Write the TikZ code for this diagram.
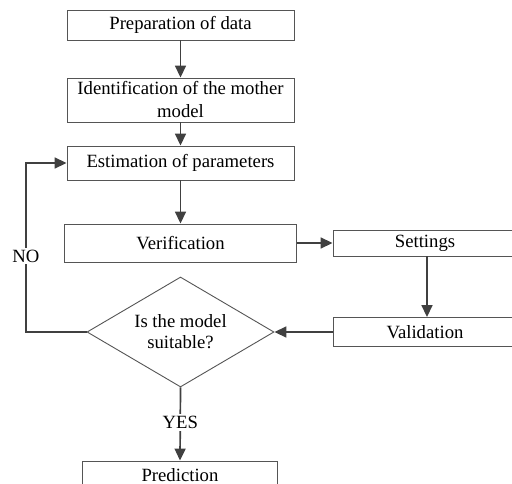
\documentclass[tikz,border=0pt]{standalone}
\usepackage{fontspec}
\setmainfont{Liberation Serif}
\usetikzlibrary{arrows.meta,shapes.geometric}

\begin{document}
\begin{tikzpicture}[x=1pt,y=1pt,yscale=-1,xscale=1,
  box/.style={draw={rgb, 255:red, 85; green, 85; blue, 85 },line width=0.9pt,fill=white,inner sep=0pt,align=center,font=\fontsize{18.7}{23}\selectfont},
  decision/.style={diamond,shape aspect=1.7,draw={rgb, 255:red, 85; green, 85; blue, 85 },line width=0.9pt,fill=white,inner sep=0pt,align=center,minimum width=187,minimum height=110,font=\fontsize{18.7}{21}\selectfont},
  flow/.style={draw={rgb, 255:red, 64; green, 64; blue, 64 },line width=1.7pt,-{Triangle[length=12pt,width=11pt]}},
  lbl/.style={fill=white,inner sep=2pt,font=\fontsize{18.7}{23}\selectfont}]
\useasboundingbox (0,0) rectangle (512,484);
\clip (0,0) rectangle (512,484);

%Shape: Rectangle [prep]
\node[box,minimum width=227,minimum height=30] (prep) at (180.5,25) {Preparation of data};
%Shape: Rectangle [ident]
\node[box,minimum width=227,minimum height=44] (ident) at (180.5,100) {Identification of the mother\\model};
%Shape: Rectangle [estim]
\node[box,minimum width=227,minimum height=34] (estim) at (180.5,163) {Estimation of parameters};
%Shape: Rectangle [verif]
\node[box,minimum width=232,minimum height=38] (verif) at (180.5,243) {Verification};
%Shape: Rectangle [settings]
\node[box,minimum width=184,minimum height=26] (settings) at (425,243) {Settings};
%Shape: Rectangle [valid]
\node[box,minimum width=184,minimum height=29] (valid) at (425,332) {Validation};
%Shape: Diamond [suit]
\node[decision] (suit) at (180.5,332) {Is the model\\suitable?};
%Shape: Rectangle [pred]
\node[box,minimum width=195,minimum height=28] (pred) at (180,475) {Prediction};

\coordinate (back) at (26,332);

%Straight Lines
\draw[flow] (prep) -- (ident);
\draw[flow] (ident) -- (estim);
\draw[flow] (estim) -- (verif);
\draw[flow] (verif) -- (settings);
\draw[flow] (settings.south -| 427,0) -- (valid.north -| 427,0);
\draw[flow] (valid) -- (suit);

%Loop back
\draw[flow] (suit.west) -- (back) -- node[lbl,pos=0.45] (no) {NO} (back |- estim.west) -- (estim.west);
\draw[flow] (suit.south) -- node[lbl,pos=0.48] (yes) {YES} (pred.north);

\end{tikzpicture}
\end{document}
